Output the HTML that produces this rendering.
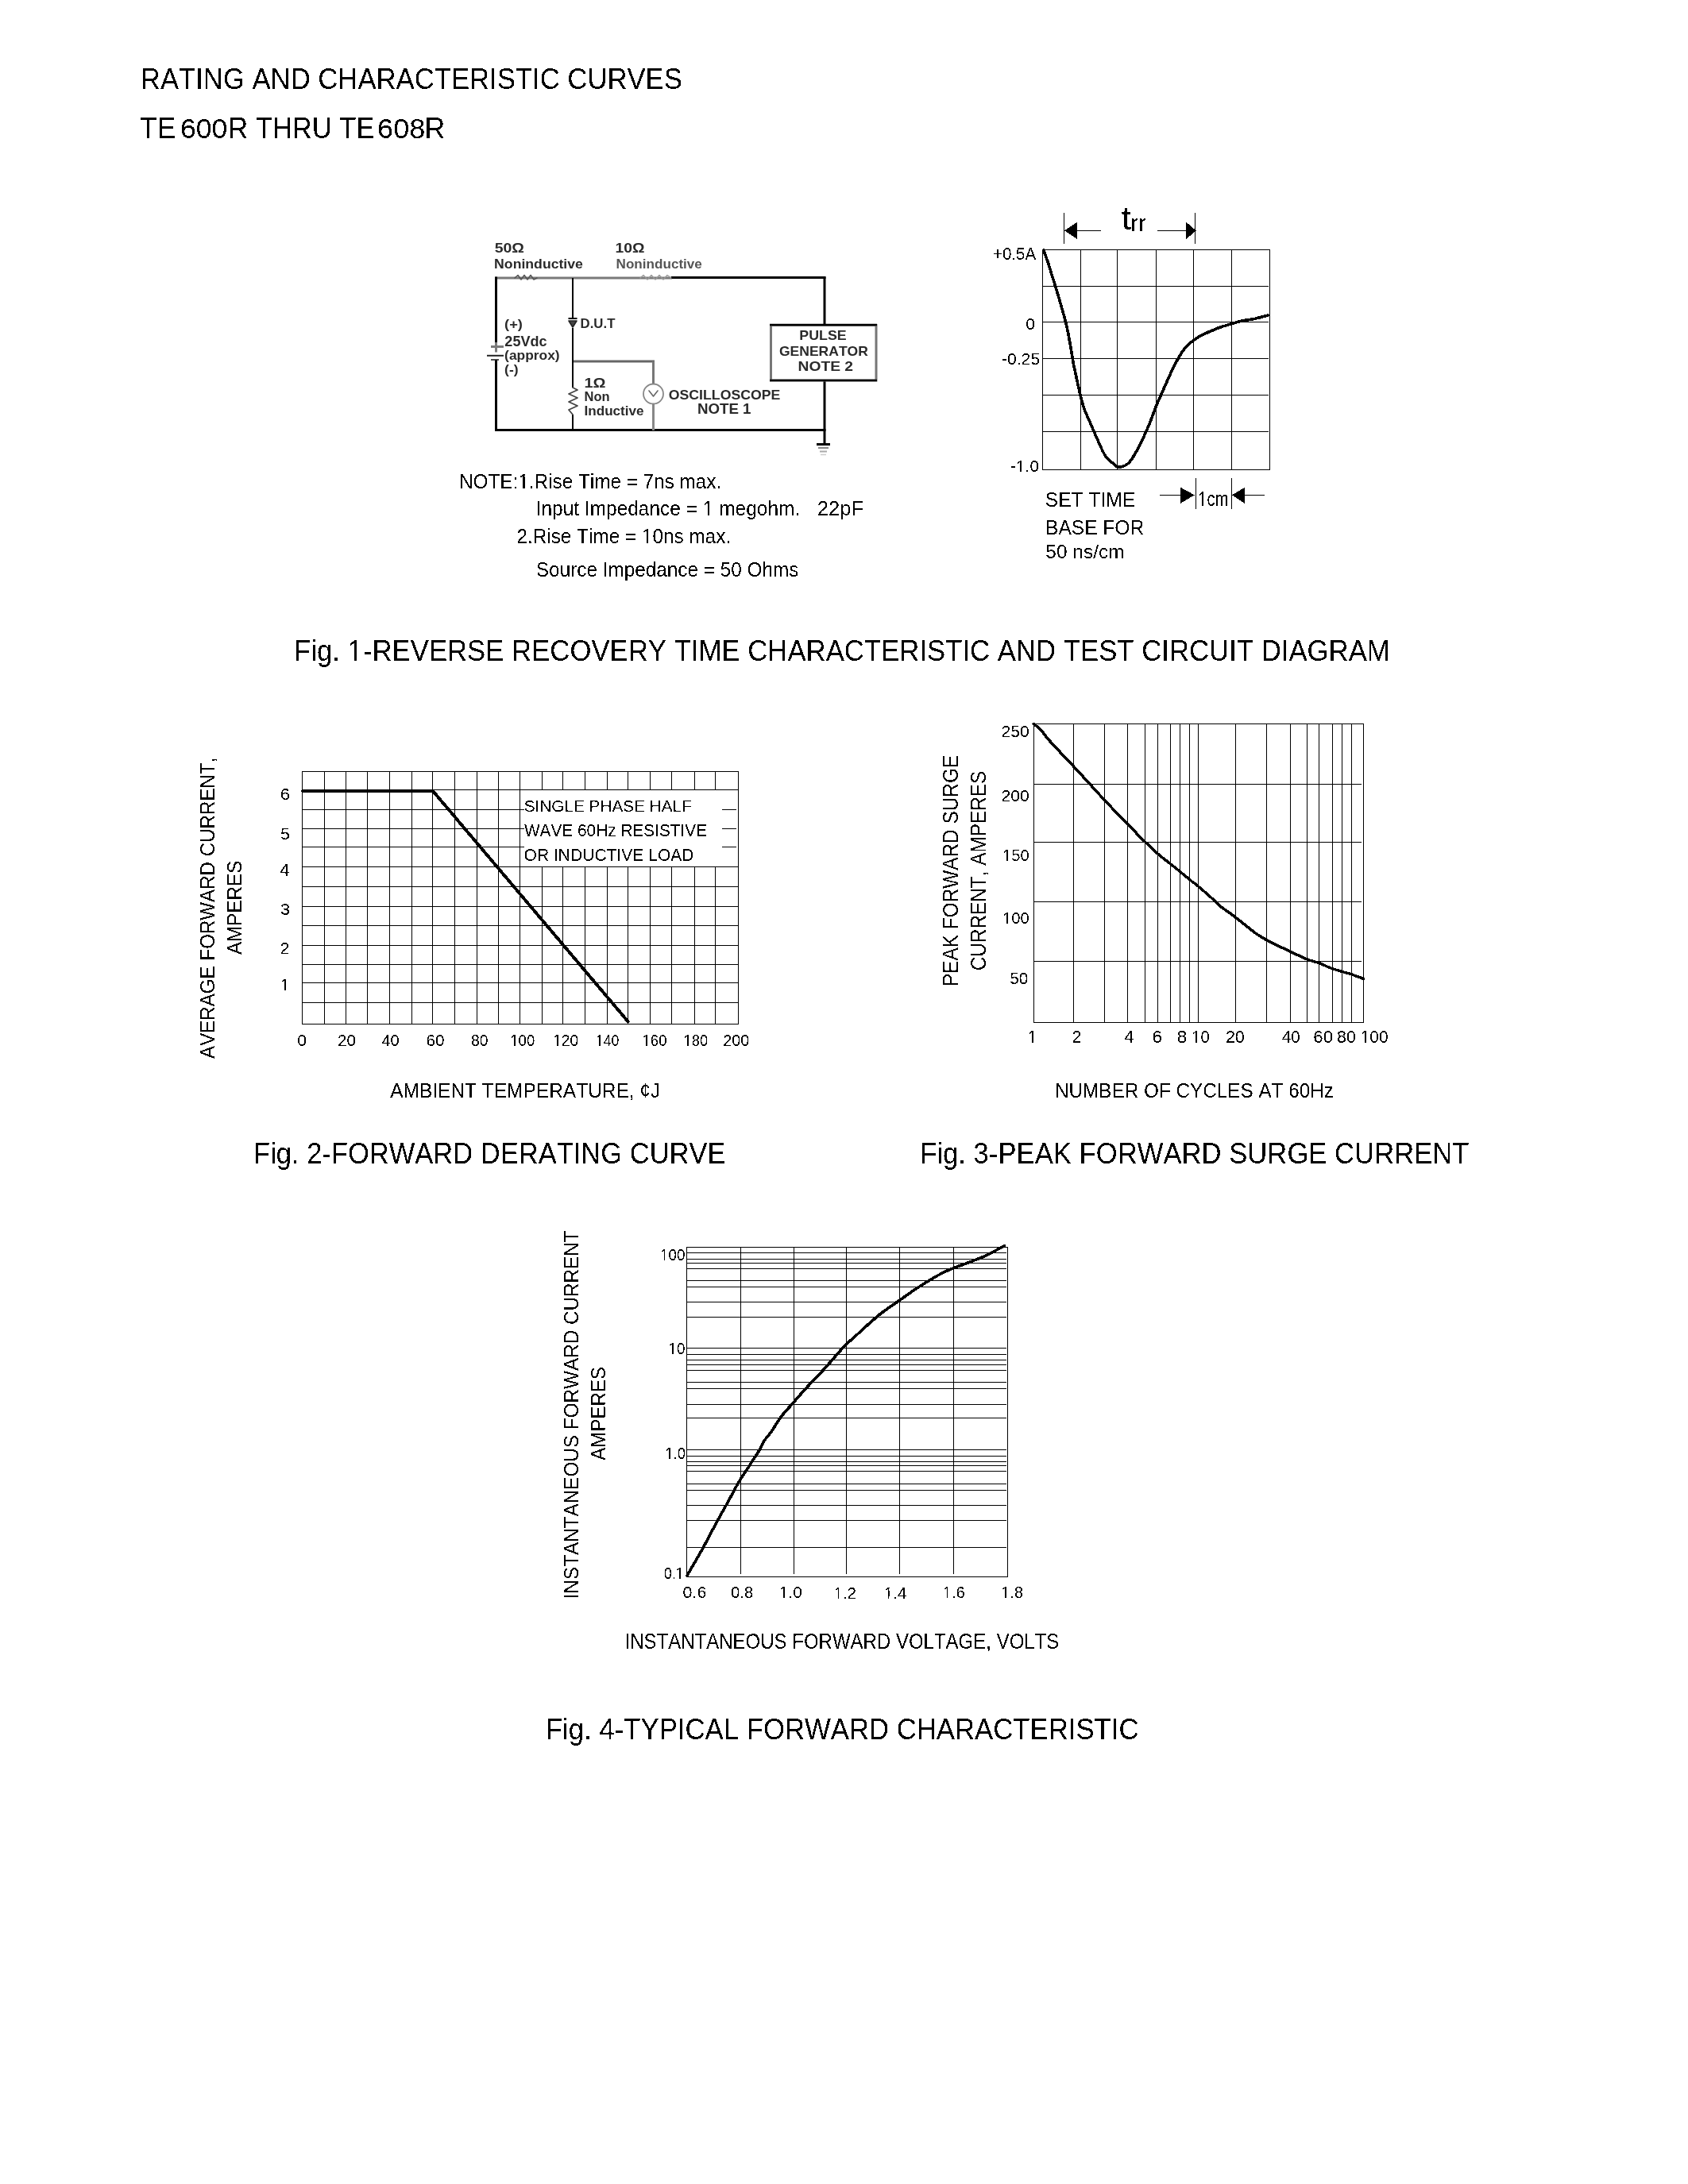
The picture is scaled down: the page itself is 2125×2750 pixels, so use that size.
<!DOCTYPE html>
<html><head><meta charset="utf-8"><title>Rating and Characteristic Curves</title>
<style>
html,body{margin:0;padding:0;background:#fff;}
body{width:2125px;height:2750px;overflow:hidden;font-family:"Liberation Sans", sans-serif;}
svg{display:block;}
svg text{font-kerning:none;font-variant-ligatures:none;white-space:pre;}
</style></head><body>
<svg style="will-change:transform" width="2125" height="2750" viewBox="0 0 2125 2750">
<defs><filter id="bin" filterUnits="userSpaceOnUse" x="0" y="0" width="2125" height="2750"><feComponentTransfer><feFuncA type="discrete" tableValues="0 1"/></feComponentTransfer></filter><filter id="bl" x="-5%" y="-20%" width="110%" height="140%"><feGaussianBlur stdDeviation="0.45"/></filter></defs>
<rect width="2125" height="2750" fill="#fff"/>
<g filter="url(#bin)">
<text x="176.86" y="112.00" font-size="37.79" textLength="681.99" lengthAdjust="spacingAndGlyphs" font-family='"Liberation Sans", sans-serif' font-weight="normal" fill="#000" >RATING AND CHARACTERISTIC CURVES</text>
<text x="176.10" y="174.00" font-size="37.65" textLength="45.43" lengthAdjust="spacingAndGlyphs" font-family='"Liberation Sans", sans-serif' font-weight="normal" fill="#000" >TE</text>
<text x="226.94" y="174.06" font-size="34.46" textLength="59.45" lengthAdjust="spacingAndGlyphs" font-family='"Liberation Sans", sans-serif' font-weight="normal" fill="#000" >600</text>
<text x="287.16" y="174.00" font-size="37.65" textLength="184.32" lengthAdjust="spacingAndGlyphs" font-family='"Liberation Sans", sans-serif' font-weight="normal" fill="#000" >R THRU TE</text>
<text x="475.07" y="174.06" font-size="34.46" textLength="60.25" lengthAdjust="spacingAndGlyphs" font-family='"Liberation Sans", sans-serif' font-weight="normal" fill="#000" >608</text>
<text x="534.56" y="174.00" font-size="37.65" textLength="25.85" lengthAdjust="spacingAndGlyphs" font-family='"Liberation Sans", sans-serif' font-weight="normal" fill="#000" >R</text>
</g><g id="circuit">
<line x1="623" y1="350" x2="846" y2="350" stroke="#7a7a7a" stroke-width="3.2" />
<line x1="845" y1="349.5" x2="1039.5" y2="349.5" stroke="#000" stroke-width="3" />
<path d="M648.00,350.00 L652.00,346.50 L656.00,352.00 L660.00,346.50 L664.00,352.00 L668.00,346.50 L672.00,352.00 L676.00,350.00" stroke="#555" stroke-width="1.6" fill="none" stroke-linejoin="round" stroke-linecap="round" />
<path d="M806.00,350.00 L810.00,346.50 L815.00,352.00 L820.00,346.50 L825.00,352.00 L830.00,346.50 L835.00,352.00 L840.00,346.50 L845.00,350.00" stroke="#999" stroke-width="1.4" fill="none" stroke-linejoin="round" stroke-linecap="round" />
<line x1="624.5" y1="348.5" x2="624.5" y2="436" stroke="#000" stroke-width="3" />
<line x1="624.5" y1="453" x2="624.5" y2="543" stroke="#000" stroke-width="3" />
<line x1="618" y1="436.5" x2="634" y2="436.5" stroke="#7a7a7a" stroke-width="3" />
<line x1="624.5" y1="431" x2="624.5" y2="443.5" stroke="#7a7a7a" stroke-width="3" />
<line x1="613" y1="447.8" x2="634" y2="447.8" stroke="#222" stroke-width="2" />
<line x1="618" y1="453" x2="628" y2="453" stroke="#222" stroke-width="1.6" />
<line x1="623" y1="541.5" x2="1039.5" y2="541.5" stroke="#000" stroke-width="3" />
<line x1="721" y1="350" x2="721" y2="400" stroke="#000" stroke-width="2" />
<line x1="721" y1="413" x2="721" y2="488" stroke="#000" stroke-width="2" />
<line x1="721" y1="522" x2="721" y2="542" stroke="#000" stroke-width="2" />
<line x1="715.5" y1="401" x2="726.5" y2="401" stroke="#000" stroke-width="2" />
<path d="M716.00,404.00 L726.00,404.00 L721.00,412.00 L716.00,404.00" stroke="#222" stroke-width="1.6" fill="#444" stroke-linejoin="round" stroke-linecap="round" />
<path d="M721.00,488.00 L727.00,491.00 L716.00,496.00 L727.00,501.00 L716.00,506.00 L727.00,511.00 L716.00,516.00 L721.00,522.00" stroke="#444" stroke-width="1.8" fill="none" stroke-linejoin="round" stroke-linecap="round" />
<line x1="722" y1="455" x2="824" y2="455" stroke="#666" stroke-width="3" />
<line x1="822.5" y1="455" x2="822.5" y2="483" stroke="#777" stroke-width="3" />
<circle cx="822.5" cy="496" r="12.5" fill="none" stroke="#888" stroke-width="1.8"/>
<path d="M817.00,492.00 L822.50,499.00 L828.00,492.00" stroke="#666" stroke-width="1.6" fill="none" stroke-linejoin="round" stroke-linecap="round" />
<line x1="822.5" y1="509" x2="822.5" y2="542" stroke="#888" stroke-width="3" />
<line x1="1038" y1="348.5" x2="1038" y2="409" stroke="#000" stroke-width="3" />
<line x1="1038" y1="479" x2="1038" y2="558" stroke="#000" stroke-width="3" />
<rect x="970.5" y="409.5" width="132.5" height="69.5" fill="none" stroke="#777" stroke-width="3"/>
<line x1="969" y1="409" x2="1104" y2="409" stroke="#000" stroke-width="2.5" />
<line x1="969" y1="479" x2="1104" y2="479" stroke="#000" stroke-width="2.5" />
<line x1="1028" y1="559.5" x2="1045" y2="559.5" stroke="#000" stroke-width="3" />
<line x1="1030" y1="564" x2="1043" y2="564" stroke="#888" stroke-width="2" />
<line x1="1032" y1="568.5" x2="1041" y2="568.5" stroke="#aaa" stroke-width="2" />
<line x1="1033" y1="572.5" x2="1040" y2="572.5" stroke="#ccc" stroke-width="1.5" />
<text x="622.70" y="318.30" font-size="16.86" textLength="37.29" lengthAdjust="spacingAndGlyphs" font-family='"Liberation Sans", sans-serif' font-weight="bold" fill="#2a2a2a" filter="url(#bl)">50Ω</text>
<text x="622.12" y="337.50" font-size="17.01" textLength="111.78" lengthAdjust="spacingAndGlyphs" font-family='"Liberation Sans", sans-serif' font-weight="bold" fill="#2a2a2a" filter="url(#bl)">Noninductive</text>
<text x="774.58" y="318.30" font-size="15.70" textLength="37.00" lengthAdjust="spacingAndGlyphs" font-family='"Liberation Sans", sans-serif' font-weight="bold" fill="#2a2a2a" filter="url(#bl)">10Ω</text>
<text x="775.56" y="337.50" font-size="17.01" textLength="108.33" lengthAdjust="spacingAndGlyphs" font-family='"Liberation Sans", sans-serif' font-weight="bold" fill="#555" filter="url(#bl)">Noninductive</text>
<text x="730.58" y="412.50" font-size="17.01" textLength="43.80" lengthAdjust="spacingAndGlyphs" font-family='"Liberation Sans", sans-serif' font-weight="bold" fill="#2a2a2a" filter="url(#bl)">D.U.T</text>
<text x="635.09" y="414.44" font-size="17.17" textLength="22.82" lengthAdjust="spacingAndGlyphs" font-family='"Liberation Sans", sans-serif' font-weight="bold" fill="#2a2a2a" filter="url(#bl)">(+)</text>
<text x="635.37" y="435.60" font-size="18.02" textLength="53.15" lengthAdjust="spacingAndGlyphs" font-family='"Liberation Sans", sans-serif' font-weight="bold" fill="#2a2a2a" filter="url(#bl)">25Vdc</text>
<text x="635.13" y="453.00" font-size="16.84" textLength="69.53" lengthAdjust="spacingAndGlyphs" font-family='"Liberation Sans", sans-serif' font-weight="bold" fill="#2a2a2a" filter="url(#bl)">(approx)</text>
<text x="635.13" y="471.43" font-size="15.77" textLength="17.44" lengthAdjust="spacingAndGlyphs" font-family='"Liberation Sans", sans-serif' font-weight="bold" fill="#2a2a2a" filter="url(#bl)">(-)</text>
<text x="735.44" y="487.50" font-size="17.01" textLength="27.06" lengthAdjust="spacingAndGlyphs" font-family='"Liberation Sans", sans-serif' font-weight="bold" fill="#2a2a2a" filter="url(#bl)">1Ω</text>
<text x="735.59" y="505.00" font-size="17.01" textLength="32.13" lengthAdjust="spacingAndGlyphs" font-family='"Liberation Sans", sans-serif' font-weight="bold" fill="#2a2a2a" filter="url(#bl)">Non</text>
<text x="735.56" y="523.30" font-size="15.70" textLength="75.03" lengthAdjust="spacingAndGlyphs" font-family='"Liberation Sans", sans-serif' font-weight="bold" fill="#2a2a2a" filter="url(#bl)">Inductive</text>
<text x="841.77" y="503.30" font-size="16.86" textLength="140.62" lengthAdjust="spacingAndGlyphs" font-family='"Liberation Sans", sans-serif' font-weight="bold" fill="#2a2a2a" filter="url(#bl)">OSCILLOSCOPE</text>
<text x="877.95" y="520.80" font-size="18.17" textLength="67.57" lengthAdjust="spacingAndGlyphs" font-family='"Liberation Sans", sans-serif' font-weight="bold" fill="#2a2a2a" filter="url(#bl)">NOTE 1</text>
<text x="1006.31" y="427.50" font-size="16.72" textLength="59.39" lengthAdjust="spacingAndGlyphs" font-family='"Liberation Sans", sans-serif' font-weight="bold" fill="#2a2a2a" filter="url(#bl)">PULSE</text>
<text x="980.98" y="448.30" font-size="16.86" textLength="111.88" lengthAdjust="spacingAndGlyphs" font-family='"Liberation Sans", sans-serif' font-weight="bold" fill="#2a2a2a" filter="url(#bl)">GENERATOR</text>
<text x="1004.51" y="466.70" font-size="17.01" textLength="69.56" lengthAdjust="spacingAndGlyphs" font-family='"Liberation Sans", sans-serif' font-weight="bold" fill="#2a2a2a" filter="url(#bl)">NOTE 2</text>
</g><g filter="url(#bin)">
<text x="578.01" y="615.00" font-size="26.02" textLength="330.21" lengthAdjust="spacingAndGlyphs" font-family='"Liberation Sans", sans-serif' font-weight="normal" fill="#000" >NOTE:1.Rise Time = 7ns max.</text>
<rect x="652.92" y="612.46" width="5.46" height="3.74" fill="#fff" shape-rendering="crispEdges"/>
<rect x="660.53" y="612.46" width="5.27" height="3.74" fill="#fff" shape-rendering="crispEdges"/>
<text x="674.64" y="649.00" font-size="25.80" textLength="332.59" lengthAdjust="spacingAndGlyphs" font-family='"Liberation Sans", sans-serif' font-weight="normal" fill="#000" >Input Impedance = 1 megohm.</text>
<rect x="885.49" y="646.47" width="5.49" height="3.73" fill="#fff" shape-rendering="crispEdges"/>
<rect x="893.14" y="646.47" width="5.30" height="3.73" fill="#fff" shape-rendering="crispEdges"/>
<text x="1028.71" y="649.00" font-size="25.80" textLength="58.31" lengthAdjust="spacingAndGlyphs" font-family='"Liberation Sans", sans-serif' font-weight="normal" fill="#000" >22pF</text>
<text x="650.38" y="684.00" font-size="26.16" textLength="269.85" lengthAdjust="spacingAndGlyphs" font-family='"Liberation Sans", sans-serif' font-weight="normal" fill="#000" >2.Rise Time = 10ns max.</text>
<rect x="808.60" y="681.45" width="5.47" height="3.75" fill="#fff" shape-rendering="crispEdges"/>
<rect x="816.21" y="681.45" width="5.28" height="3.75" fill="#fff" shape-rendering="crispEdges"/>
<text x="674.90" y="725.50" font-size="25.44" textLength="330.48" lengthAdjust="spacingAndGlyphs" font-family='"Liberation Sans", sans-serif' font-weight="normal" fill="#000" >Source Impedance = 50 Ohms</text>
<line x1="1360.5" y1="314" x2="1360.5" y2="592" stroke="#000" stroke-width="1" />
<line x1="1406.5" y1="314" x2="1406.5" y2="592" stroke="#000" stroke-width="1" />
<line x1="1455.5" y1="314" x2="1455.5" y2="592" stroke="#000" stroke-width="1" />
<line x1="1502.5" y1="314" x2="1502.5" y2="592" stroke="#000" stroke-width="1" />
<line x1="1550.5" y1="314" x2="1550.5" y2="592" stroke="#000" stroke-width="1" />
<line x1="1312" y1="360.5" x2="1597" y2="360.5" stroke="#000" stroke-width="1" />
<line x1="1312" y1="405.5" x2="1597" y2="405.5" stroke="#000" stroke-width="1" />
<line x1="1312" y1="451.5" x2="1597" y2="451.5" stroke="#000" stroke-width="1" />
<line x1="1312" y1="497.5" x2="1597" y2="497.5" stroke="#000" stroke-width="1" />
<line x1="1312" y1="543.5" x2="1597" y2="543.5" stroke="#000" stroke-width="1" />
<rect x="1312.5" y="314.5" width="286" height="277" fill="none" stroke="#000" stroke-width="1"/>
<path d="M1313.75,315.00 C1314.79,317.92 1318.33,327.50 1320.00,332.50 C1321.67,337.50 1322.08,339.58 1323.75,345.00 C1325.42,350.42 1327.50,356.67 1330.00,365.00 C1332.50,373.33 1336.46,386.67 1338.75,395.00 C1341.04,403.33 1342.29,408.33 1343.75,415.00 C1345.21,421.67 1346.25,427.92 1347.50,435.00 C1348.75,442.08 1350.00,450.83 1351.25,457.50 C1352.50,464.17 1353.54,468.33 1355.00,475.00 C1356.46,481.67 1358.33,490.83 1360.00,497.50 C1361.67,504.17 1362.92,509.17 1365.00,515.00 C1367.08,520.83 1370.00,526.67 1372.50,532.50 C1375.00,538.33 1376.88,543.12 1380.00,550.00 C1383.12,556.88 1387.92,568.33 1391.25,573.75 C1394.58,579.17 1397.50,580.21 1400.00,582.50 C1402.50,584.79 1404.17,586.67 1406.25,587.50 C1408.33,588.33 1410.21,588.12 1412.50,587.50 C1414.79,586.88 1417.50,586.04 1420.00,583.75 C1422.50,581.46 1424.58,578.54 1427.50,573.75 C1430.42,568.96 1434.17,561.88 1437.50,555.00 C1440.83,548.12 1444.58,539.58 1447.50,532.50 C1450.42,525.42 1452.29,519.17 1455.00,512.50 C1457.71,505.83 1460.62,499.58 1463.75,492.50 C1466.88,485.42 1470.62,476.67 1473.75,470.00 C1476.88,463.33 1479.38,457.92 1482.50,452.50 C1485.62,447.08 1488.33,442.08 1492.50,437.50 C1496.67,432.92 1502.92,428.12 1507.50,425.00 C1512.08,421.88 1515.42,420.83 1520.00,418.75 C1524.58,416.67 1529.58,414.46 1535.00,412.50 C1540.42,410.54 1547.50,408.46 1552.50,407.00 C1557.50,405.54 1560.42,404.71 1565.00,403.75 C1569.58,402.79 1574.79,402.38 1580.00,401.25 C1585.21,400.12 1593.54,397.71 1596.25,397.00" stroke="#000" stroke-width="3.6" fill="none" stroke-linejoin="round" stroke-linecap="round" />
<text x="1249.90" y="327.10" font-size="22.38" textLength="54.34" lengthAdjust="spacingAndGlyphs" font-family='"Liberation Sans", sans-serif' font-weight="normal" fill="#000" >+0.5A</text>
<text x="1291.16" y="414.60" font-size="20.90" textLength="11.98" lengthAdjust="spacingAndGlyphs" font-family='"Liberation Sans", sans-serif' font-weight="normal" fill="#000" >0</text>
<text x="1260.86" y="458.60" font-size="20.90" textLength="48.33" lengthAdjust="spacingAndGlyphs" font-family='"Liberation Sans", sans-serif' font-weight="normal" fill="#000" >-0.25</text>
<text x="1271.97" y="593.80" font-size="20.90" textLength="36.15" lengthAdjust="spacingAndGlyphs" font-family='"Liberation Sans", sans-serif' font-weight="normal" fill="#000" >-1.0</text>
<rect x="1279.35" y="591.63" width="4.88" height="3.36" fill="#fff" shape-rendering="crispEdges"/>
<rect x="1286.08" y="591.63" width="4.71" height="3.36" fill="#fff" shape-rendering="crispEdges"/>
<text x="1411.83" y="288.75" font-size="40.60" textLength="12.24" lengthAdjust="spacingAndGlyphs" font-family='"Liberation Sans", sans-serif' font-weight="normal" fill="#000" >t</text>
<text x="1423.01" y="291.25" font-size="30.20" textLength="19.99" lengthAdjust="spacingAndGlyphs" font-family='"Liberation Sans", sans-serif' font-weight="normal" fill="#000" >rr</text>
<line x1="1339.5" y1="268" x2="1339.5" y2="307" stroke="#000" stroke-width="1" />
<line x1="1504.5" y1="268" x2="1504.5" y2="307" stroke="#000" stroke-width="1" />
<line x1="1356" y1="290.5" x2="1386" y2="290.5" stroke="#000" stroke-width="1" />
<line x1="1457" y1="290.5" x2="1493" y2="290.5" stroke="#000" stroke-width="1" />
<path d="M1340.00,290.50 L1356.00,280.00 L1356.00,301.00" stroke="#000" stroke-width="0.5" fill="#000" stroke-linejoin="round" stroke-linecap="round" />
<path d="M1505.60,290.50 L1493.40,280.00 L1493.40,301.00" stroke="#000" stroke-width="0.5" fill="#000" stroke-linejoin="round" stroke-linecap="round" />
<text x="1315.78" y="637.75" font-size="25.80" textLength="113.37" lengthAdjust="spacingAndGlyphs" font-family='"Liberation Sans", sans-serif' font-weight="normal" fill="#000" >SET TIME</text>
<text x="1316.09" y="672.75" font-size="25.80" textLength="124.05" lengthAdjust="spacingAndGlyphs" font-family='"Liberation Sans", sans-serif' font-weight="normal" fill="#000" >BASE FOR</text>
<text x="1316.27" y="702.86" font-size="24.10" textLength="99.34" lengthAdjust="spacingAndGlyphs" font-family='"Liberation Sans", sans-serif' font-weight="normal" fill="#000" >50 ns/cm</text>
<text x="1508.37" y="637.00" font-size="26.16" textLength="38.06" lengthAdjust="spacingAndGlyphs" font-family='"Liberation Sans", sans-serif' font-weight="normal" fill="#000" >1cm</text>
<rect x="1508.70" y="634.45" width="4.73" height="3.75" fill="#fff" shape-rendering="crispEdges"/>
<rect x="1515.21" y="634.45" width="4.57" height="3.75" fill="#fff" shape-rendering="crispEdges"/>
<line x1="1505.5" y1="602" x2="1505.5" y2="641" stroke="#000" stroke-width="1" />
<line x1="1550.5" y1="602" x2="1550.5" y2="641" stroke="#000" stroke-width="1" />
<line x1="1460" y1="623.5" x2="1488" y2="623.5" stroke="#000" stroke-width="1" />
<line x1="1566" y1="623.5" x2="1592" y2="623.5" stroke="#000" stroke-width="1" />
<path d="M1503.50,623.50 L1486.25,614.00 L1486.25,633.75" stroke="#000" stroke-width="0.5" fill="#000" stroke-linejoin="round" stroke-linecap="round" />
<path d="M1551.00,623.50 L1567.00,614.00 L1567.00,634.00" stroke="#000" stroke-width="0.5" fill="#000" stroke-linejoin="round" stroke-linecap="round" />
<text x="370.05" y="832.10" font-size="36.12" textLength="1379.70" lengthAdjust="spacingAndGlyphs" font-family='"Liberation Sans", sans-serif' font-weight="normal" fill="#000" >Fig. 1-REVERSE RECOVERY TIME CHARACTERISTIC AND TEST CIRCUIT DIAGRAM</text>
<rect x="439.04" y="828.80" width="7.29" height="4.50" fill="#fff" shape-rendering="crispEdges"/>
<rect x="449.40" y="828.80" width="7.02" height="4.50" fill="#fff" shape-rendering="crispEdges"/>
<line x1="408.5" y1="971" x2="408.5" y2="1289" stroke="#000" stroke-width="1" />
<line x1="435.5" y1="971" x2="435.5" y2="1289" stroke="#000" stroke-width="1" />
<line x1="462.5" y1="971" x2="462.5" y2="1289" stroke="#000" stroke-width="1" />
<line x1="490.5" y1="971" x2="490.5" y2="1289" stroke="#000" stroke-width="1" />
<line x1="518.5" y1="971" x2="518.5" y2="1289" stroke="#000" stroke-width="1" />
<line x1="544.5" y1="971" x2="544.5" y2="1289" stroke="#000" stroke-width="1" />
<line x1="572.5" y1="971" x2="572.5" y2="1289" stroke="#000" stroke-width="1" />
<line x1="600.5" y1="971" x2="600.5" y2="1289" stroke="#000" stroke-width="1" />
<line x1="627.5" y1="971" x2="627.5" y2="1289" stroke="#000" stroke-width="1" />
<line x1="654.5" y1="971" x2="654.5" y2="1289" stroke="#000" stroke-width="1" />
<line x1="682.5" y1="971" x2="682.5" y2="995" stroke="#000" stroke-width="1" />
<line x1="682.5" y1="1091" x2="682.5" y2="1289" stroke="#000" stroke-width="1" />
<line x1="708.5" y1="971" x2="708.5" y2="995" stroke="#000" stroke-width="1" />
<line x1="708.5" y1="1091" x2="708.5" y2="1289" stroke="#000" stroke-width="1" />
<line x1="736.5" y1="971" x2="736.5" y2="995" stroke="#000" stroke-width="1" />
<line x1="736.5" y1="1091" x2="736.5" y2="1289" stroke="#000" stroke-width="1" />
<line x1="764.5" y1="971" x2="764.5" y2="995" stroke="#000" stroke-width="1" />
<line x1="764.5" y1="1091" x2="764.5" y2="1289" stroke="#000" stroke-width="1" />
<line x1="790.5" y1="971" x2="790.5" y2="995" stroke="#000" stroke-width="1" />
<line x1="790.5" y1="1091" x2="790.5" y2="1289" stroke="#000" stroke-width="1" />
<line x1="818.5" y1="971" x2="818.5" y2="995" stroke="#000" stroke-width="1" />
<line x1="818.5" y1="1091" x2="818.5" y2="1289" stroke="#000" stroke-width="1" />
<line x1="845.5" y1="971" x2="845.5" y2="995" stroke="#000" stroke-width="1" />
<line x1="845.5" y1="1091" x2="845.5" y2="1289" stroke="#000" stroke-width="1" />
<line x1="874.5" y1="971" x2="874.5" y2="995" stroke="#000" stroke-width="1" />
<line x1="874.5" y1="1091" x2="874.5" y2="1289" stroke="#000" stroke-width="1" />
<line x1="900.5" y1="971" x2="900.5" y2="995" stroke="#000" stroke-width="1" />
<line x1="900.5" y1="1091" x2="900.5" y2="1289" stroke="#000" stroke-width="1" />
<line x1="380" y1="994.5" x2="929" y2="994.5" stroke="#000" stroke-width="1" />
<line x1="380" y1="1019.5" x2="660" y2="1019.5" stroke="#000" stroke-width="1" />
<line x1="909" y1="1019.5" x2="927" y2="1019.5" stroke="#000" stroke-width="1" />
<line x1="380" y1="1043.5" x2="660" y2="1043.5" stroke="#000" stroke-width="1" />
<line x1="909" y1="1043.5" x2="927" y2="1043.5" stroke="#000" stroke-width="1" />
<line x1="380" y1="1066.5" x2="660" y2="1066.5" stroke="#000" stroke-width="1" />
<line x1="909" y1="1066.5" x2="927" y2="1066.5" stroke="#000" stroke-width="1" />
<line x1="380" y1="1091.5" x2="929" y2="1091.5" stroke="#000" stroke-width="1" />
<line x1="380" y1="1116.5" x2="929" y2="1116.5" stroke="#000" stroke-width="1" />
<line x1="380" y1="1141.5" x2="929" y2="1141.5" stroke="#000" stroke-width="1" />
<line x1="380" y1="1165.5" x2="929" y2="1165.5" stroke="#000" stroke-width="1" />
<line x1="380" y1="1190.5" x2="929" y2="1190.5" stroke="#000" stroke-width="1" />
<line x1="380" y1="1214.5" x2="929" y2="1214.5" stroke="#000" stroke-width="1" />
<line x1="380" y1="1237.5" x2="929" y2="1237.5" stroke="#000" stroke-width="1" />
<line x1="380" y1="1262.5" x2="929" y2="1262.5" stroke="#000" stroke-width="1" />
<rect x="380.5" y="971.5" width="549" height="318" fill="none" stroke="#000" stroke-width="1"/>
<path d="M381.00,996.00 L545.00,996.00 L790.75,1286.50" stroke="#000" stroke-width="4" fill="none" stroke-linejoin="round" stroke-linecap="round" />
<text x="659.66" y="1021.60" font-size="20.86" textLength="211.17" lengthAdjust="spacingAndGlyphs" font-family='"Liberation Sans", sans-serif' font-weight="normal" fill="#000" >SINGLE PHASE HALF</text>
<text x="659.91" y="1052.75" font-size="21.44" textLength="230.24" lengthAdjust="spacingAndGlyphs" font-family='"Liberation Sans", sans-serif' font-weight="normal" fill="#000" >WAVE 60Hz RESISTIVE</text>
<text x="659.60" y="1083.75" font-size="21.44" textLength="213.90" lengthAdjust="spacingAndGlyphs" font-family='"Liberation Sans", sans-serif' font-weight="normal" fill="#000" >OR INDUCTIVE LOAD</text>
<text x="352.67" y="1006.70" font-size="20.76" textLength="12.41" lengthAdjust="spacingAndGlyphs" font-family='"Liberation Sans", sans-serif' font-weight="normal" fill="#000" >6</text>
<text x="352.93" y="1056.69" font-size="21.07" textLength="12.08" lengthAdjust="spacingAndGlyphs" font-family='"Liberation Sans", sans-serif' font-weight="normal" fill="#000" >5</text>
<text x="352.30" y="1103.10" font-size="21.51" textLength="12.03" lengthAdjust="spacingAndGlyphs" font-family='"Liberation Sans", sans-serif' font-weight="normal" fill="#000" >4</text>
<text x="352.97" y="1151.60" font-size="20.90" textLength="12.08" lengthAdjust="spacingAndGlyphs" font-family='"Liberation Sans", sans-serif' font-weight="normal" fill="#000" >3</text>
<text x="352.74" y="1200.50" font-size="20.19" textLength="11.72" lengthAdjust="spacingAndGlyphs" font-family='"Liberation Sans", sans-serif' font-weight="normal" fill="#000" >2</text>
<text x="352.65" y="1247.30" font-size="20.49" textLength="11.35" lengthAdjust="spacingAndGlyphs" font-family='"Liberation Sans", sans-serif' font-weight="normal" fill="#000" >1</text>
<rect x="353.00" y="1245.17" width="4.78" height="3.33" fill="#fff" shape-rendering="crispEdges"/>
<rect x="359.58" y="1245.17" width="4.62" height="3.33" fill="#fff" shape-rendering="crispEdges"/>
<text x="374.17" y="1316.80" font-size="20.90" textLength="11.75" lengthAdjust="spacingAndGlyphs" font-family='"Liberation Sans", sans-serif' font-weight="normal" fill="#000" >0</text>
<text x="424.95" y="1316.80" font-size="20.90" textLength="23.16" lengthAdjust="spacingAndGlyphs" font-family='"Liberation Sans", sans-serif' font-weight="normal" fill="#000" >20</text>
<text x="480.54" y="1316.80" font-size="20.90" textLength="22.13" lengthAdjust="spacingAndGlyphs" font-family='"Liberation Sans", sans-serif' font-weight="normal" fill="#000" >40</text>
<text x="536.55" y="1316.80" font-size="20.90" textLength="22.95" lengthAdjust="spacingAndGlyphs" font-family='"Liberation Sans", sans-serif' font-weight="normal" fill="#000" >60</text>
<text x="593.06" y="1316.80" font-size="20.90" textLength="21.49" lengthAdjust="spacingAndGlyphs" font-family='"Liberation Sans", sans-serif' font-weight="normal" fill="#000" >80</text>
<text x="642.34" y="1316.80" font-size="20.90" textLength="30.88" lengthAdjust="spacingAndGlyphs" font-family='"Liberation Sans", sans-serif' font-weight="normal" fill="#000" >100</text>
<rect x="642.55" y="1314.63" width="4.44" height="3.36" fill="#fff" shape-rendering="crispEdges"/>
<rect x="648.63" y="1314.63" width="4.30" height="3.36" fill="#fff" shape-rendering="crispEdges"/>
<text x="696.03" y="1316.80" font-size="20.90" textLength="32.23" lengthAdjust="spacingAndGlyphs" font-family='"Liberation Sans", sans-serif' font-weight="normal" fill="#000" >120</text>
<rect x="696.30" y="1314.63" width="4.59" height="3.36" fill="#fff" shape-rendering="crispEdges"/>
<rect x="702.59" y="1314.63" width="4.43" height="3.36" fill="#fff" shape-rendering="crispEdges"/>
<text x="749.90" y="1316.80" font-size="20.90" textLength="29.54" lengthAdjust="spacingAndGlyphs" font-family='"Liberation Sans", sans-serif' font-weight="normal" fill="#000" >140</text>
<rect x="750.05" y="1314.63" width="4.30" height="3.36" fill="#fff" shape-rendering="crispEdges"/>
<rect x="755.92" y="1314.63" width="4.17" height="3.36" fill="#fff" shape-rendering="crispEdges"/>
<text x="808.59" y="1316.80" font-size="20.90" textLength="30.88" lengthAdjust="spacingAndGlyphs" font-family='"Liberation Sans", sans-serif' font-weight="normal" fill="#000" >160</text>
<rect x="808.80" y="1314.63" width="4.44" height="3.36" fill="#fff" shape-rendering="crispEdges"/>
<rect x="814.88" y="1314.63" width="4.30" height="3.36" fill="#fff" shape-rendering="crispEdges"/>
<text x="860.60" y="1316.80" font-size="20.90" textLength="30.61" lengthAdjust="spacingAndGlyphs" font-family='"Liberation Sans", sans-serif' font-weight="normal" fill="#000" >180</text>
<rect x="860.80" y="1314.63" width="4.42" height="3.36" fill="#fff" shape-rendering="crispEdges"/>
<rect x="866.84" y="1314.63" width="4.27" height="3.36" fill="#fff" shape-rendering="crispEdges"/>
<text x="910.25" y="1316.80" font-size="20.90" textLength="33.02" lengthAdjust="spacingAndGlyphs" font-family='"Liberation Sans", sans-serif' font-weight="normal" fill="#000" >200</text>
<text transform="translate(270.00,0) rotate(-90)" x="-1332.95" y="0" font-size="26.16" textLength="379.31" lengthAdjust="spacingAndGlyphs" font-family='"Liberation Sans", sans-serif' font-weight="normal" fill="#000" >AVERAGE FORWARD CURRENT,</text>
<text transform="translate(304.00,0) rotate(-90)" x="-1202.05" y="0" font-size="25.15" textLength="118.46" lengthAdjust="spacingAndGlyphs" font-family='"Liberation Sans", sans-serif' font-weight="normal" fill="#000" >AMPERES</text>
<text x="491.20" y="1381.90" font-size="26.02" textLength="340.12" lengthAdjust="spacingAndGlyphs" font-family='"Liberation Sans", sans-serif' font-weight="normal" fill="#000" >AMBIENT TEMPERATURE, ¢J</text>
<text x="319.07" y="1464.75" font-size="37.28" textLength="594.51" lengthAdjust="spacingAndGlyphs" font-family='"Liberation Sans", sans-serif' font-weight="normal" fill="#000" >Fig. 2-FORWARD DERATING CURVE</text>
<line x1="1351.5" y1="911" x2="1351.5" y2="1287" stroke="#000" stroke-width="1" />
<line x1="1390.5" y1="911" x2="1390.5" y2="1287" stroke="#000" stroke-width="1" />
<line x1="1419.5" y1="911" x2="1419.5" y2="1287" stroke="#000" stroke-width="1" />
<line x1="1441.5" y1="911" x2="1441.5" y2="1287" stroke="#000" stroke-width="1" />
<line x1="1457.5" y1="911" x2="1457.5" y2="1287" stroke="#000" stroke-width="1" />
<line x1="1473.5" y1="911" x2="1473.5" y2="1287" stroke="#000" stroke-width="1" />
<line x1="1485.5" y1="911" x2="1485.5" y2="1287" stroke="#000" stroke-width="1" />
<line x1="1497.5" y1="911" x2="1497.5" y2="1287" stroke="#000" stroke-width="1" />
<line x1="1508.5" y1="911" x2="1508.5" y2="1287" stroke="#000" stroke-width="1" />
<line x1="1555.5" y1="911" x2="1555.5" y2="1287" stroke="#000" stroke-width="1" />
<line x1="1594.5" y1="911" x2="1594.5" y2="1287" stroke="#000" stroke-width="1" />
<line x1="1624.5" y1="911" x2="1624.5" y2="1287" stroke="#000" stroke-width="1" />
<line x1="1645.5" y1="911" x2="1645.5" y2="1287" stroke="#000" stroke-width="1" />
<line x1="1660.5" y1="911" x2="1660.5" y2="1287" stroke="#000" stroke-width="1" />
<line x1="1677.5" y1="911" x2="1677.5" y2="1287" stroke="#000" stroke-width="1" />
<line x1="1689.5" y1="911" x2="1689.5" y2="1287" stroke="#000" stroke-width="1" />
<line x1="1701.5" y1="911" x2="1701.5" y2="1287" stroke="#000" stroke-width="1" />
<line x1="1301" y1="987.5" x2="1714" y2="987.5" stroke="#000" stroke-width="1" />
<line x1="1301" y1="1060.5" x2="1714" y2="1060.5" stroke="#000" stroke-width="1" />
<line x1="1301" y1="1135.5" x2="1714" y2="1135.5" stroke="#000" stroke-width="1" />
<line x1="1301" y1="1210.5" x2="1714" y2="1210.5" stroke="#000" stroke-width="1" />
<rect x="1301.5" y="911.5" width="415" height="376" fill="none" stroke="#000" stroke-width="1"/>
<path d="M1301.25,911.25 C1302.71,912.50 1306.88,915.42 1310.00,918.75 C1313.12,922.08 1315.83,926.46 1320.00,931.25 C1324.17,936.04 1329.75,941.88 1335.00,947.50 C1340.25,953.12 1345.67,958.75 1351.50,965.00 C1357.33,971.25 1363.50,977.92 1370.00,985.00 C1376.50,992.08 1382.29,998.75 1390.50,1007.50 C1398.71,1016.25 1410.75,1028.75 1419.25,1037.50 C1427.75,1046.25 1435.12,1053.75 1441.50,1060.00 C1447.88,1066.25 1452.25,1070.42 1457.50,1075.00 C1462.75,1079.58 1468.33,1083.75 1473.00,1087.50 C1477.67,1091.25 1481.42,1094.17 1485.50,1097.50 C1489.58,1100.83 1493.62,1104.38 1497.50,1107.50 C1501.38,1110.62 1503.33,1111.67 1508.75,1116.25 C1514.17,1120.83 1526.31,1131.67 1530.00,1135.00 C1533.69,1138.33 1529.38,1134.80 1530.90,1136.20 C1532.42,1137.60 1535.05,1140.30 1539.10,1143.40 C1543.15,1146.50 1548.67,1149.82 1555.20,1154.80 C1561.73,1159.78 1571.77,1168.50 1578.30,1173.30 C1584.83,1178.10 1588.22,1180.17 1594.40,1183.60 C1600.58,1187.03 1607.10,1189.95 1615.40,1193.90 C1623.70,1197.85 1636.72,1204.20 1644.20,1207.30 C1651.68,1210.40 1654.80,1210.43 1660.30,1212.50 C1665.80,1214.57 1670.33,1217.30 1677.20,1219.70 C1684.07,1222.10 1694.98,1224.78 1701.50,1226.90 C1708.02,1229.02 1713.83,1231.48 1716.30,1232.40" stroke="#000" stroke-width="3.5" fill="none" stroke-linejoin="round" stroke-linecap="round" />
<text x="1260.44" y="928.29" font-size="21.04" textLength="35.29" lengthAdjust="spacingAndGlyphs" font-family='"Liberation Sans", sans-serif' font-weight="normal" fill="#000" >250</text>
<text x="1260.44" y="1009.10" font-size="20.76" textLength="35.29" lengthAdjust="spacingAndGlyphs" font-family='"Liberation Sans", sans-serif' font-weight="normal" fill="#000" >200</text>
<text x="1262.07" y="1083.80" font-size="20.62" textLength="33.62" lengthAdjust="spacingAndGlyphs" font-family='"Liberation Sans", sans-serif' font-weight="normal" fill="#000" >150</text>
<rect x="1262.40" y="1081.66" width="4.73" height="3.34" fill="#fff" shape-rendering="crispEdges"/>
<rect x="1268.91" y="1081.66" width="4.58" height="3.34" fill="#fff" shape-rendering="crispEdges"/>
<text x="1262.07" y="1162.90" font-size="20.76" textLength="33.62" lengthAdjust="spacingAndGlyphs" font-family='"Liberation Sans", sans-serif' font-weight="normal" fill="#000" >100</text>
<rect x="1262.40" y="1160.75" width="4.73" height="3.35" fill="#fff" shape-rendering="crispEdges"/>
<rect x="1268.91" y="1160.75" width="4.58" height="3.35" fill="#fff" shape-rendering="crispEdges"/>
<text x="1271.27" y="1238.70" font-size="20.34" textLength="23.15" lengthAdjust="spacingAndGlyphs" font-family='"Liberation Sans", sans-serif' font-weight="normal" fill="#000" >50</text>
<text x="1293.57" y="1313.00" font-size="21.80" textLength="11.87" lengthAdjust="spacingAndGlyphs" font-family='"Liberation Sans", sans-serif' font-weight="normal" fill="#000" >1</text>
<rect x="1294.00" y="1310.77" width="4.94" height="3.43" fill="#fff" shape-rendering="crispEdges"/>
<rect x="1300.83" y="1310.77" width="4.77" height="3.43" fill="#fff" shape-rendering="crispEdges"/>
<text x="1349.85" y="1313.00" font-size="21.48" textLength="11.60" lengthAdjust="spacingAndGlyphs" font-family='"Liberation Sans", sans-serif' font-weight="normal" fill="#000" >2</text>
<text x="1415.30" y="1313.00" font-size="21.80" textLength="12.14" lengthAdjust="spacingAndGlyphs" font-family='"Liberation Sans", sans-serif' font-weight="normal" fill="#000" >4</text>
<text x="1450.64" y="1312.79" font-size="21.19" textLength="12.66" lengthAdjust="spacingAndGlyphs" font-family='"Liberation Sans", sans-serif' font-weight="normal" fill="#000" >6</text>
<text x="1481.72" y="1312.79" font-size="21.19" textLength="12.56" lengthAdjust="spacingAndGlyphs" font-family='"Liberation Sans", sans-serif' font-weight="normal" fill="#000" >8</text>
<text x="1500.36" y="1312.79" font-size="21.19" textLength="22.42" lengthAdjust="spacingAndGlyphs" font-family='"Liberation Sans", sans-serif' font-weight="normal" fill="#000" >10</text>
<rect x="1500.70" y="1310.61" width="4.73" height="3.38" fill="#fff" shape-rendering="crispEdges"/>
<rect x="1507.22" y="1310.61" width="4.58" height="3.38" fill="#fff" shape-rendering="crispEdges"/>
<text x="1542.92" y="1312.79" font-size="21.19" textLength="23.92" lengthAdjust="spacingAndGlyphs" font-family='"Liberation Sans", sans-serif' font-weight="normal" fill="#000" >20</text>
<text x="1613.93" y="1312.79" font-size="21.19" textLength="22.88" lengthAdjust="spacingAndGlyphs" font-family='"Liberation Sans", sans-serif' font-weight="normal" fill="#000" >40</text>
<text x="1653.37" y="1312.79" font-size="21.19" textLength="24.69" lengthAdjust="spacingAndGlyphs" font-family='"Liberation Sans", sans-serif' font-weight="normal" fill="#000" >60</text>
<text x="1683.07" y="1312.79" font-size="21.19" textLength="23.76" lengthAdjust="spacingAndGlyphs" font-family='"Liberation Sans", sans-serif' font-weight="normal" fill="#000" >80</text>
<text x="1712.71" y="1312.79" font-size="21.19" textLength="34.91" lengthAdjust="spacingAndGlyphs" font-family='"Liberation Sans", sans-serif' font-weight="normal" fill="#000" >100</text>
<rect x="1713.10" y="1310.61" width="4.87" height="3.38" fill="#fff" shape-rendering="crispEdges"/>
<rect x="1719.82" y="1310.61" width="4.70" height="3.38" fill="#fff" shape-rendering="crispEdges"/>
<text transform="translate(1206.00,0) rotate(-90)" x="-1242.00" y="0" font-size="27.76" textLength="291.15" lengthAdjust="spacingAndGlyphs" font-family='"Liberation Sans", sans-serif' font-weight="normal" fill="#000" >PEAK FORWARD SURGE</text>
<text transform="translate(1240.90,0) rotate(-90)" x="-1222.24" y="0" font-size="27.62" textLength="251.45" lengthAdjust="spacingAndGlyphs" font-family='"Liberation Sans", sans-serif' font-weight="normal" fill="#000" >CURRENT, AMPERES</text>
<text x="1328.01" y="1381.90" font-size="26.02" textLength="350.95" lengthAdjust="spacingAndGlyphs" font-family='"Liberation Sans", sans-serif' font-weight="normal" fill="#000" >NUMBER OF CYCLES AT 60Hz</text>
<text x="1158.16" y="1464.75" font-size="37.28" textLength="691.39" lengthAdjust="spacingAndGlyphs" font-family='"Liberation Sans", sans-serif' font-weight="normal" fill="#000" >Fig. 3-PEAK FORWARD SURGE CURRENT</text>
<line x1="932.5" y1="1570" x2="932.5" y2="1982" stroke="#000" stroke-width="1" />
<line x1="999.5" y1="1570" x2="999.5" y2="1982" stroke="#000" stroke-width="1" />
<line x1="1065.5" y1="1570" x2="1065.5" y2="1982" stroke="#000" stroke-width="1" />
<line x1="1132.5" y1="1570" x2="1132.5" y2="1982" stroke="#000" stroke-width="1" />
<line x1="1200.5" y1="1570" x2="1200.5" y2="1982" stroke="#000" stroke-width="1" />
<line x1="864" y1="1577.5" x2="1267" y2="1577.5" stroke="#000" stroke-width="1" />
<line x1="864" y1="1585.5" x2="1267" y2="1585.5" stroke="#000" stroke-width="1" />
<line x1="864" y1="1590.5" x2="1267" y2="1590.5" stroke="#000" stroke-width="1" />
<line x1="864" y1="1597.5" x2="1267" y2="1597.5" stroke="#000" stroke-width="1" />
<line x1="864" y1="1612.5" x2="1267" y2="1612.5" stroke="#000" stroke-width="1" />
<line x1="864" y1="1620.5" x2="1267" y2="1620.5" stroke="#000" stroke-width="1" />
<line x1="864" y1="1639.5" x2="1267" y2="1639.5" stroke="#000" stroke-width="1" />
<line x1="864" y1="1658.5" x2="1267" y2="1658.5" stroke="#000" stroke-width="1" />
<line x1="864" y1="1697.5" x2="1267" y2="1697.5" stroke="#000" stroke-width="1" />
<line x1="864" y1="1705.5" x2="1267" y2="1705.5" stroke="#000" stroke-width="1" />
<line x1="864" y1="1712.5" x2="1267" y2="1712.5" stroke="#000" stroke-width="1" />
<line x1="864" y1="1718.5" x2="1267" y2="1718.5" stroke="#000" stroke-width="1" />
<line x1="864" y1="1725.5" x2="1267" y2="1725.5" stroke="#000" stroke-width="1" />
<line x1="864" y1="1740.5" x2="1267" y2="1740.5" stroke="#000" stroke-width="1" />
<line x1="864" y1="1748.5" x2="1267" y2="1748.5" stroke="#000" stroke-width="1" />
<line x1="864" y1="1768.5" x2="1267" y2="1768.5" stroke="#000" stroke-width="1" />
<line x1="864" y1="1785.5" x2="1267" y2="1785.5" stroke="#000" stroke-width="1" />
<line x1="864" y1="1825.5" x2="1267" y2="1825.5" stroke="#000" stroke-width="1" />
<line x1="864" y1="1833.5" x2="1267" y2="1833.5" stroke="#000" stroke-width="1" />
<line x1="864" y1="1840.5" x2="1267" y2="1840.5" stroke="#000" stroke-width="1" />
<line x1="864" y1="1845.5" x2="1267" y2="1845.5" stroke="#000" stroke-width="1" />
<line x1="864" y1="1852.5" x2="1267" y2="1852.5" stroke="#000" stroke-width="1" />
<line x1="864" y1="1868.5" x2="1267" y2="1868.5" stroke="#000" stroke-width="1" />
<line x1="864" y1="1876.5" x2="1267" y2="1876.5" stroke="#000" stroke-width="1" />
<line x1="864" y1="1895.5" x2="1267" y2="1895.5" stroke="#000" stroke-width="1" />
<line x1="864" y1="1914.5" x2="1267" y2="1914.5" stroke="#000" stroke-width="1" />
<line x1="864" y1="1948.5" x2="1267" y2="1948.5" stroke="#000" stroke-width="1" />
<rect x="864.5" y="1570.5" width="404" height="415" fill="none" stroke="#000" stroke-width="1"/>
<path d="M864.80,1984.00 C867.70,1979.03 875.98,1965.40 882.20,1954.20 C888.42,1943.00 896.70,1926.75 902.10,1916.80 C907.50,1906.85 910.03,1902.78 914.60,1894.50 C919.17,1886.22 924.64,1875.35 929.50,1867.10 C934.36,1858.85 939.50,1851.60 943.75,1845.00 C948.00,1838.40 951.88,1832.75 955.00,1827.50 C958.12,1822.25 959.79,1817.67 962.50,1813.50 C965.21,1809.33 967.92,1807.25 971.25,1802.50 C974.58,1797.75 978.12,1790.83 982.50,1785.00 C986.88,1779.17 991.67,1774.17 997.50,1767.50 C1003.33,1760.83 1010.62,1752.50 1017.50,1745.00 C1024.38,1737.50 1031.46,1730.50 1038.75,1722.50 C1046.04,1714.50 1054.38,1704.17 1061.25,1697.00 C1068.12,1689.83 1072.29,1686.50 1080.00,1679.50 C1087.71,1672.50 1099.17,1661.75 1107.50,1655.00 C1115.83,1648.25 1122.12,1644.55 1130.00,1639.00 C1137.88,1633.45 1145.92,1627.45 1154.80,1621.70 C1163.68,1615.95 1175.68,1608.67 1183.30,1604.50 C1190.92,1600.33 1191.38,1600.38 1200.50,1596.70 C1209.62,1593.02 1227.37,1587.08 1238.00,1582.40 C1248.63,1577.72 1259.92,1570.90 1264.30,1568.60" stroke="#000" stroke-width="3.6" fill="none" stroke-linejoin="round" stroke-linecap="round" />
<text x="830.96" y="1586.50" font-size="20.20" textLength="31.47" lengthAdjust="spacingAndGlyphs" font-family='"Liberation Sans", sans-serif' font-weight="normal" fill="#000" >100</text>
<rect x="831.20" y="1584.39" width="4.51" height="3.31" fill="#fff" shape-rendering="crispEdges"/>
<rect x="837.37" y="1584.39" width="4.36" height="3.31" fill="#fff" shape-rendering="crispEdges"/>
<text x="841.57" y="1704.70" font-size="20.20" textLength="20.86" lengthAdjust="spacingAndGlyphs" font-family='"Liberation Sans", sans-serif' font-weight="normal" fill="#000" >10</text>
<rect x="841.80" y="1702.59" width="4.49" height="3.31" fill="#fff" shape-rendering="crispEdges"/>
<rect x="847.95" y="1702.59" width="4.34" height="3.31" fill="#fff" shape-rendering="crispEdges"/>
<text x="837.29" y="1836.99" font-size="21.04" textLength="25.73" lengthAdjust="spacingAndGlyphs" font-family='"Liberation Sans", sans-serif' font-weight="normal" fill="#000" >1.0</text>
<rect x="837.50" y="1834.82" width="4.44" height="3.37" fill="#fff" shape-rendering="crispEdges"/>
<rect x="843.58" y="1834.82" width="4.30" height="3.37" fill="#fff" shape-rendering="crispEdges"/>
<text x="836.11" y="1987.60" font-size="20.20" textLength="24.55" lengthAdjust="spacingAndGlyphs" font-family='"Liberation Sans", sans-serif' font-weight="normal" fill="#000" >0.1</text>
<rect x="850.99" y="1985.49" width="4.30" height="3.31" fill="#fff" shape-rendering="crispEdges"/>
<rect x="856.84" y="1985.49" width="4.16" height="3.31" fill="#fff" shape-rendering="crispEdges"/>
<text x="859.56" y="2012.40" font-size="20.20" textLength="29.78" lengthAdjust="spacingAndGlyphs" font-family='"Liberation Sans", sans-serif' font-weight="normal" fill="#000" >0.6</text>
<text x="920.00" y="2012.40" font-size="20.20" textLength="28.38" lengthAdjust="spacingAndGlyphs" font-family='"Liberation Sans", sans-serif' font-weight="normal" fill="#000" >0.8</text>
<text x="980.81" y="2012.40" font-size="20.20" textLength="29.00" lengthAdjust="spacingAndGlyphs" font-family='"Liberation Sans", sans-serif' font-weight="normal" fill="#000" >1.0</text>
<rect x="981.20" y="2010.29" width="4.86" height="3.31" fill="#fff" shape-rendering="crispEdges"/>
<rect x="987.90" y="2010.29" width="4.69" height="3.31" fill="#fff" shape-rendering="crispEdges"/>
<text x="1049.43" y="2012.60" font-size="20.48" textLength="28.60" lengthAdjust="spacingAndGlyphs" font-family='"Liberation Sans", sans-serif' font-weight="normal" fill="#000" >1.2</text>
<rect x="1049.80" y="2010.47" width="4.81" height="3.33" fill="#fff" shape-rendering="crispEdges"/>
<rect x="1056.43" y="2010.47" width="4.65" height="3.33" fill="#fff" shape-rendering="crispEdges"/>
<text x="1112.43" y="2012.60" font-size="20.79" textLength="28.68" lengthAdjust="spacingAndGlyphs" font-family='"Liberation Sans", sans-serif' font-weight="normal" fill="#000" >1.4</text>
<rect x="1112.80" y="2010.45" width="4.82" height="3.35" fill="#fff" shape-rendering="crispEdges"/>
<rect x="1119.44" y="2010.45" width="4.65" height="3.35" fill="#fff" shape-rendering="crispEdges"/>
<text x="1186.44" y="2012.40" font-size="20.20" textLength="28.46" lengthAdjust="spacingAndGlyphs" font-family='"Liberation Sans", sans-serif' font-weight="normal" fill="#000" >1.6</text>
<rect x="1186.80" y="2010.29" width="4.79" height="3.31" fill="#fff" shape-rendering="crispEdges"/>
<rect x="1193.40" y="2010.29" width="4.63" height="3.31" fill="#fff" shape-rendering="crispEdges"/>
<text x="1260.50" y="2012.40" font-size="20.20" textLength="27.35" lengthAdjust="spacingAndGlyphs" font-family='"Liberation Sans", sans-serif' font-weight="normal" fill="#000" >1.8</text>
<rect x="1260.80" y="2010.29" width="4.65" height="3.31" fill="#fff" shape-rendering="crispEdges"/>
<rect x="1267.19" y="2010.29" width="4.50" height="3.31" fill="#fff" shape-rendering="crispEdges"/>
<text transform="translate(728.00,0) rotate(-90)" x="-2013.24" y="0" font-size="26.16" textLength="463.80" lengthAdjust="spacingAndGlyphs" font-family='"Liberation Sans", sans-serif' font-weight="normal" fill="#000" >INSTANTANEOUS FORWARD CURRENT</text>
<text transform="translate(761.90,0) rotate(-90)" x="-1838.75" y="0" font-size="25.87" textLength="117.85" lengthAdjust="spacingAndGlyphs" font-family='"Liberation Sans", sans-serif' font-weight="normal" fill="#000" >AMPERES</text>
<text x="786.53" y="2076.25" font-size="27.83" textLength="546.82" lengthAdjust="spacingAndGlyphs" font-family='"Liberation Sans", sans-serif' font-weight="normal" fill="#000" >INSTANTANEOUS FORWARD VOLTAGE, VOLTS</text>
<text x="686.90" y="2189.75" font-size="36.85" textLength="746.67" lengthAdjust="spacingAndGlyphs" font-family='"Liberation Sans", sans-serif' font-weight="normal" fill="#000" >Fig. 4-TYPICAL FORWARD CHARACTERISTIC</text>
</g>
</svg>
</body></html>
